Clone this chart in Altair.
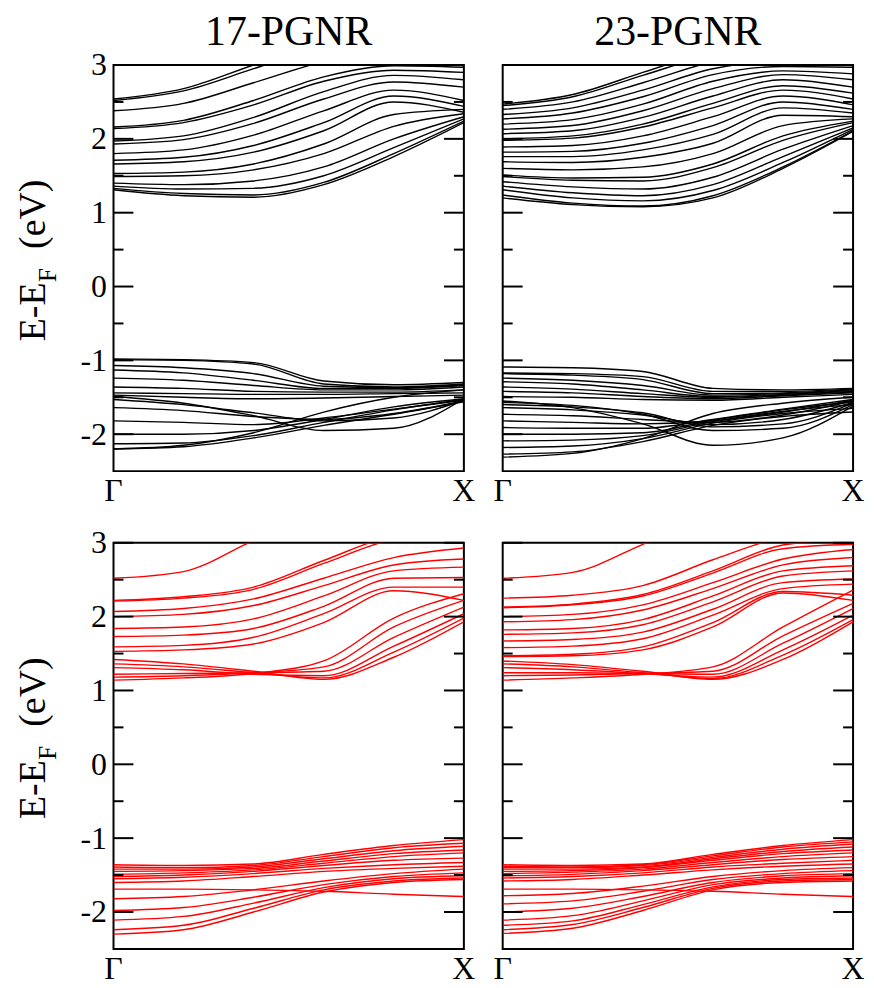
import altair as alt
import pandas as pd

# k-path sample points (Gamma = 0, X = 1)
k_points = [0.0, 0.2, 0.4, 0.6, 0.8, 1.0]

# ---- 17-PGNR, black (top-left) ----
pgnr17_black_conduction = [
    [2.54, 2.68, 3.00, 3.30, 3.50, 3.55],
    [2.52, 2.65, 2.95, 3.25, 3.45, 3.50],
    [2.38, 2.48, 2.76, 3.05, 3.25, 3.30],
    [2.16, 2.25, 2.52, 2.84, 2.99, 2.97],
    [2.14, 2.22, 2.46, 2.78, 2.93, 2.90],
    [1.97, 2.04, 2.29, 2.64, 2.86, 2.80],
    [1.93, 1.99, 2.21, 2.54, 2.77, 2.70],
    [1.80, 1.85, 2.05, 2.38, 2.66, 2.52],
    [1.71, 1.75, 1.91, 2.22, 2.58, 2.44],
    [1.66, 1.69, 1.82, 2.11, 2.50, 2.36],
    [1.53, 1.55, 1.66, 1.93, 2.33, 2.40],
    [1.49, 1.50, 1.58, 1.80, 2.17, 2.34],
    [1.40, 1.38, 1.43, 1.62, 2.00, 2.30],
    [1.36, 1.32, 1.33, 1.50, 1.88, 2.27],
    [1.33, 1.26, 1.24, 1.41, 1.80, 2.24],
    [1.31, 1.23, 1.21, 1.38, 1.76, 2.22],
]
pgnr17_black_valence = [
    [-0.98, -0.99, -1.03, -1.28, -1.33, -1.30],
    [-0.99, -1.00, -1.05, -1.32, -1.36, -1.32],
    [-1.07, -1.10, -1.18, -1.35, -1.37, -1.33],
    [-1.13, -1.17, -1.27, -1.38, -1.38, -1.34],
    [-1.24, -1.27, -1.34, -1.40, -1.40, -1.36],
    [-1.36, -1.38, -1.42, -1.43, -1.43, -1.40],
    [-1.44, -1.45, -1.46, -1.46, -1.45, -1.44],
    [-1.47, -1.50, -1.52, -1.51, -1.49, -1.47],
    [-1.49, -1.58, -1.75, -1.95, -1.92, -1.52],
    [-1.53, -1.60, -1.71, -1.82, -1.78, -1.54],
    [-1.64, -1.68, -1.76, -1.80, -1.72, -1.55],
    [-1.82, -1.84, -1.87, -1.78, -1.66, -1.54],
    [-2.00, -2.00, -1.95, -1.80, -1.63, -1.52],
    [-2.13, -2.12, -2.02, -1.84, -1.67, -1.53],
    [-2.20, -2.17, -2.05, -1.88, -1.73, -1.56],
    [-2.20, -2.15, -1.98, -1.70, -1.50, -1.40],
]

# ---- 23-PGNR, black (top-right) ----
pgnr23_black_conduction = [
    [2.47, 2.60, 2.90, 3.20, 3.40, 3.45],
    [2.45, 2.57, 2.86, 3.15, 3.35, 3.40],
    [2.40, 2.50, 2.76, 3.05, 3.25, 3.30],
    [2.33, 2.42, 2.66, 2.95, 3.05, 3.05],
    [2.27, 2.35, 2.57, 2.87, 2.98, 2.97],
    [2.20, 2.26, 2.47, 2.78, 2.92, 2.88],
    [2.13, 2.18, 2.38, 2.68, 2.87, 2.80],
    [2.07, 2.11, 2.29, 2.58, 2.80, 2.70],
    [2.00, 2.04, 2.20, 2.48, 2.72, 2.62],
    [1.98, 2.01, 2.16, 2.42, 2.66, 2.54],
    [1.89, 1.91, 2.04, 2.30, 2.58, 2.46],
    [1.82, 1.83, 1.94, 2.18, 2.50, 2.40],
    [1.76, 1.76, 1.85, 2.06, 2.42, 2.35],
    [1.69, 1.68, 1.75, 1.94, 2.32, 2.30],
    [1.60, 1.58, 1.62, 1.80, 2.18, 2.27],
    [1.51, 1.47, 1.48, 1.66, 2.04, 2.24],
    [1.49, 1.44, 1.43, 1.61, 1.98, 2.22],
    [1.42, 1.35, 1.32, 1.48, 1.86, 2.18],
    [1.36, 1.27, 1.23, 1.38, 1.76, 2.15],
    [1.31, 1.20, 1.16, 1.30, 1.68, 2.13],
    [1.24, 1.13, 1.09, 1.23, 1.62, 2.11],
    [1.20, 1.11, 1.08, 1.20, 1.60, 2.10],
]
pgnr23_black_valence = [
    [-1.09, -1.10, -1.15, -1.38, -1.40, -1.38],
    [-1.17, -1.18, -1.22, -1.42, -1.42, -1.39],
    [-1.18, -1.20, -1.26, -1.45, -1.44, -1.40],
    [-1.24, -1.27, -1.34, -1.47, -1.45, -1.41],
    [-1.29, -1.32, -1.40, -1.49, -1.46, -1.42],
    [-1.36, -1.39, -1.45, -1.50, -1.47, -1.43],
    [-1.42, -1.44, -1.49, -1.52, -1.48, -1.44],
    [-1.49, -1.50, -1.53, -1.54, -1.50, -1.46],
    [-1.55, -1.64, -1.86, -2.15, -2.05, -1.62],
    [-1.57, -1.61, -1.73, -1.95, -1.92, -1.60],
    [-1.60, -1.63, -1.71, -1.90, -1.86, -1.58],
    [-1.64, -1.67, -1.74, -1.87, -1.80, -1.57],
    [-1.73, -1.75, -1.80, -1.84, -1.74, -1.55],
    [-1.82, -1.84, -1.86, -1.82, -1.70, -1.54],
    [-1.91, -1.92, -1.92, -1.80, -1.66, -1.53],
    [-2.00, -2.00, -1.98, -1.81, -1.67, -1.56],
    [-2.09, -2.08, -2.02, -1.83, -1.69, -1.60],
    [-2.18, -2.16, -2.06, -1.85, -1.72, -1.65],
    [-2.27, -2.24, -2.10, -1.88, -1.76, -1.70],
    [-2.31, -2.26, -2.06, -1.72, -1.58, -1.50],
]

# ---- 17-PGNR, red (bottom-left) ----
pgnr17_red_conduction = [
    [2.52, 2.61, 3.03, 3.40, 3.60, 3.70],
    [2.22, 2.27, 2.40, 2.76, 3.10, 3.20],
    [2.21, 2.25, 2.37, 2.72, 3.05, 3.15],
    [2.07, 2.11, 2.24, 2.52, 2.80, 2.93],
    [2.00, 2.03, 2.15, 2.42, 2.70, 2.78],
    [1.84, 1.86, 1.97, 2.28, 2.62, 2.67],
    [1.73, 1.75, 1.84, 2.14, 2.52, 2.53],
    [1.59, 1.61, 1.72, 2.04, 2.40, 2.40],
    [1.53, 1.55, 1.63, 1.92, 2.35, 2.22],
    [1.42, 1.36, 1.26, 1.15, 1.45, 1.93],
    [1.36, 1.32, 1.24, 1.17, 1.52, 1.98],
    [1.31, 1.28, 1.22, 1.20, 1.60, 2.04],
    [1.22, 1.23, 1.24, 1.26, 1.72, 2.13],
    [1.18, 1.20, 1.24, 1.32, 1.86, 2.22],
    [1.14, 1.17, 1.23, 1.40, 1.98, 2.31],
]
pgnr17_red_valence = [
    [-1.36, -1.37, -1.35, -1.22, -1.10, -1.02],
    [-1.39, -1.40, -1.37, -1.25, -1.13, -1.07],
    [-1.42, -1.42, -1.39, -1.28, -1.17, -1.11],
    [-1.45, -1.44, -1.41, -1.31, -1.21, -1.16],
    [-1.49, -1.47, -1.43, -1.34, -1.25, -1.20],
    [-1.52, -1.50, -1.45, -1.37, -1.30, -1.27],
    [-1.55, -1.53, -1.48, -1.41, -1.36, -1.33],
    [-1.60, -1.58, -1.52, -1.45, -1.41, -1.38],
    [-1.69, -1.69, -1.70, -1.72, -1.76, -1.79],
    [-1.82, -1.79, -1.70, -1.58, -1.48, -1.42],
    [-1.98, -1.94, -1.80, -1.63, -1.52, -1.47],
    [-2.11, -2.06, -1.88, -1.67, -1.55, -1.51],
    [-2.24, -2.18, -1.95, -1.70, -1.58, -1.54],
    [-2.30, -2.24, -2.00, -1.73, -1.60, -1.56],
]

# ---- 23-PGNR, red (bottom-right) ----
pgnr23_red_conduction = [
    [2.52, 2.60, 2.98, 3.40, 3.60, 3.70],
    [2.25, 2.29, 2.42, 2.77, 3.08, 3.20],
    [2.13, 2.17, 2.30, 2.62, 2.97, 3.05],
    [2.12, 2.16, 2.28, 2.59, 2.92, 2.98],
    [2.00, 2.03, 2.16, 2.46, 2.78, 2.91],
    [1.93, 1.96, 2.09, 2.38, 2.70, 2.80],
    [1.82, 1.84, 1.96, 2.28, 2.62, 2.69],
    [1.76, 1.78, 1.89, 2.20, 2.55, 2.62],
    [1.67, 1.69, 1.79, 2.10, 2.46, 2.51],
    [1.58, 1.60, 1.70, 2.02, 2.38, 2.44],
    [1.47, 1.49, 1.59, 1.92, 2.34, 2.29],
    [1.46, 1.47, 1.55, 1.86, 2.32, 2.22],
    [1.40, 1.35, 1.26, 1.15, 1.42, 1.93],
    [1.36, 1.32, 1.24, 1.16, 1.48, 1.96],
    [1.31, 1.28, 1.23, 1.18, 1.55, 2.02],
    [1.24, 1.24, 1.23, 1.22, 1.64, 2.11],
    [1.20, 1.21, 1.23, 1.26, 1.74, 2.18],
    [1.14, 1.17, 1.22, 1.32, 1.86, 2.36],
]
pgnr23_red_valence = [
    [-1.36, -1.37, -1.35, -1.22, -1.10, -1.02],
    [-1.38, -1.39, -1.36, -1.24, -1.12, -1.05],
    [-1.40, -1.40, -1.37, -1.26, -1.15, -1.08],
    [-1.42, -1.42, -1.39, -1.28, -1.18, -1.12],
    [-1.45, -1.44, -1.40, -1.30, -1.21, -1.16],
    [-1.48, -1.46, -1.42, -1.33, -1.25, -1.20],
    [-1.51, -1.49, -1.44, -1.36, -1.29, -1.25],
    [-1.54, -1.52, -1.47, -1.39, -1.34, -1.30],
    [-1.58, -1.56, -1.50, -1.43, -1.38, -1.35],
    [-1.69, -1.69, -1.70, -1.72, -1.76, -1.79],
    [-1.78, -1.75, -1.65, -1.52, -1.44, -1.40],
    [-1.89, -1.85, -1.72, -1.56, -1.48, -1.44],
    [-2.00, -1.95, -1.79, -1.60, -1.51, -1.48],
    [-2.11, -2.05, -1.85, -1.63, -1.54, -1.51],
    [-2.18, -2.12, -1.90, -1.66, -1.56, -1.54],
    [-2.24, -2.17, -1.94, -1.68, -1.58, -1.56],
    [-2.29, -2.22, -1.98, -1.70, -1.60, -1.58],
]

column_titles = ["17-PGNR", "23-PGNR"]
k_ends = [0.0, 1.0]
k_labels = ["Γ", "X"]
major_ticks = [-2, -1, 0, 1, 2, 3]
minor_ticks = [-1.5, -0.5, 0.5, 1.5, 2.5]

SERIF = "Liberation Serif, Times New Roman, Times, DejaVu Serif, serif"
W, H = 352, 408
E_DOMAIN = [-2.5, 3]


def bands_frame(*groups):
    rows = []
    n = 0
    for group in groups:
        for band in group:
            for k, e in zip(k_points, band):
                rows.append({"k": k, "E": e, "band": n})
            n += 1
    return pd.DataFrame(rows)


def text_layer(txt, size, xpos, ypos, angle=0, baseline="alphabetic"):
    return alt.Chart(pd.DataFrame({"t": [txt]})).mark_text(
        angle=angle, font=SERIF, fontSize=size, align="center",
        baseline=baseline, color="black",
    ).encode(text="t:N", x=alt.value(xpos), y=alt.value(ypos))


def panel(conduction, valence, color, left, title=None):
    df = bands_frame(conduction, valence)
    x_scale = alt.Scale(domain=[0, 1], nice=False, zero=False)
    x_enc = alt.X("k:Q", scale=x_scale, axis=None)
    if left:
        y_axis = alt.Axis(
            values=major_ticks, labelExpr="toString(datum.value)",
            ticks=False, domain=False, grid=False,
            labelFont=SERIF, labelFontSize=32, labelColor="black",
            labelPadding=7, title=None,
        )
    else:
        y_axis = None
    y_scale = alt.Scale(domain=E_DOMAIN, nice=False, zero=False)

    lines = alt.Chart(df).mark_line(
        interpolate="monotone", clip=True, strokeWidth=1.4, color=color
    ).encode(
        x=x_enc,
        y=alt.Y("E:Q", scale=y_scale, axis=y_axis),
        detail="band:N",
    )

    maj = pd.DataFrame({"E": major_ticks})
    mnr = pd.DataFrame({"E": minor_ticks})

    def tick_layer(data, x0, x1):
        return alt.Chart(data).mark_rule(color="black", strokeWidth=2).encode(
            y=alt.Y("E:Q", scale=y_scale, axis=y_axis),
            x=alt.value(x0), x2=alt.value(x1),
        )

    # Gamma / X labels placed through the k scale
    k_text = alt.Chart(pd.DataFrame({"k": k_ends, "lab": k_labels})).mark_text(
        font=SERIF, fontSize=32, align="center", baseline="alphabetic",
        color="black",
    ).encode(x=x_enc, y=alt.value(H + 30), text="lab:N")

    layers = [
        lines,
        tick_layer(maj, 0, 20), tick_layer(maj, W - 20, W),
        tick_layer(mnr, 0, 10), tick_layer(mnr, W - 10, W),
        k_text,
    ]

    if left:
        layers += [
            text_layer("E-E", 38, -69, 248, angle=270),
            text_layer("F", 25, -58, 211, angle=270),
            text_layer("(eV)", 38, -69, 150, angle=270),
        ]
    if title:
        layers.append(text_layer(title, 42, W / 2, -20))

    return alt.layer(*layers).properties(width=W, height=H)


top = alt.hconcat(
    panel(pgnr17_black_conduction, pgnr17_black_valence, "black", True, column_titles[0]),
    panel(pgnr23_black_conduction, pgnr23_black_valence, "black", False, column_titles[1]),
    spacing=15,
)
bottom = alt.hconcat(
    panel(pgnr17_red_conduction, pgnr17_red_valence, "#ff0000", True),
    panel(pgnr23_red_conduction, pgnr23_red_valence, "#ff0000", False),
    spacing=15,
)

chart = alt.vconcat(top, bottom, spacing=18).configure_view(
    stroke="black", strokeWidth=2
).properties(
    background="white",
    padding={"left": 6, "top": 0, "right": 0, "bottom": 0},
)

chart.save("out.html", embed_options={"renderer": "svg", "actions": False})
